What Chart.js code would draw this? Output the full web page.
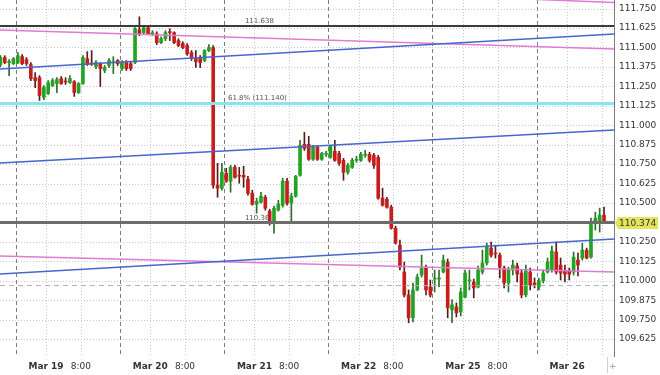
<!DOCTYPE html>
<html>
<head>
<meta charset="utf-8">
<script src="https://cdn.jsdelivr.net/npm/chart.js@4.4.1/dist/chart.umd.min.js"></script>
<style>
  html, body { margin: 0; padding: 0; background: #fff; }
</style>
</head>
<body>
<canvas id="usdjpy" width="660" height="375"></canvas>
<script>
// hourly candles, x = hours from Mar 19 00:00 with the weekend squeezed out
const firstHour = -11

const opens = [
  111.390, 111.435, 111.403, 111.396, 111.403, 111.441, 111.422, 111.390, 111.306, 111.306,
  111.178, 111.204, 111.255, 111.268, 111.300, 111.281, 111.274, 111.281, 111.210, 111.268,
  111.428, 111.396, 111.377, 111.396, 111.352, 111.384, 111.403, 111.416, 111.364, 111.403,
  111.396, 111.403, 111.614, 111.595, 111.627, 111.588, 111.588, 111.531, 111.556, 111.601,
  111.595, 111.544, 111.525, 111.512, 111.467, 111.428, 111.435, 111.416, 111.480, 111.499,
  110.614, 110.595, 110.691, 110.640, 110.729, 110.678, 110.678, 110.653, 110.563, 110.492,
  110.505, 110.537, 110.448, 110.377, 110.454, 110.486, 110.640, 110.499, 110.544, 110.678,
  110.877, 110.877, 110.781, 110.858, 110.781, 110.813, 110.794, 110.832, 110.819, 110.774,
  110.697, 110.729, 110.774, 110.774, 110.806, 110.813, 110.806, 110.794, 110.531, 110.524,
  110.473, 110.338, 110.229, 110.056, 109.909, 109.762, 109.941, 110.037, 110.082, 109.960,
  110.011, 110.011, 110.056, 110.120, 109.813, 109.832, 109.800, 109.896, 109.999, 109.992,
  109.960, 110.056, 110.114, 110.210, 110.178, 110.165, 110.082, 109.986, 110.069, 110.095,
  110.050, 109.909, 110.056, 109.986, 109.960, 109.999, 110.056, 110.069, 110.185, 110.101,
  110.063, 110.069, 110.056, 110.133, 110.146, 110.197, 110.152, 110.377, 110.377, 110.422
]
const highs = [
  111.447, 111.447, 111.422, 111.435, 111.467, 111.454, 111.435, 111.403, 111.338, 111.319,
  111.255, 111.287, 111.300, 111.306, 111.313, 111.306, 111.319, 111.287, 111.274, 111.447,
  111.473, 111.480, 111.416, 111.403, 111.384, 111.428, 111.441, 111.422, 111.416, 111.416,
  111.409, 111.627, 111.697, 111.640, 111.640, 111.608, 111.601, 111.569, 111.608, 111.620,
  111.601, 111.556, 111.537, 111.525, 111.480, 111.480, 111.448, 111.486, 111.518, 111.512,
  110.755, 110.755, 110.723, 110.742, 110.742, 110.729, 110.736, 110.672, 110.582, 110.531,
  110.569, 110.550, 110.460, 110.480, 110.518, 110.659, 110.659, 110.563, 110.678, 110.903,
  110.954, 110.928, 110.870, 110.870, 110.826, 110.832, 110.870, 110.903, 110.832, 110.787,
  110.755, 110.787, 110.800, 110.826, 110.838, 110.826, 110.819, 110.806, 110.595, 110.537,
  110.486, 110.351, 110.262, 110.120, 109.941, 109.986, 110.043, 110.165, 110.101, 110.005,
  110.069, 110.069, 110.165, 110.140, 109.877, 109.858, 109.954, 110.069, 110.069, 110.011,
  110.095, 110.197, 110.242, 110.249, 110.229, 110.178, 110.095, 110.088, 110.133, 110.114,
  110.069, 110.101, 110.082, 110.018, 110.018, 110.069, 110.146, 110.223, 110.249, 110.146,
  110.101, 110.082, 110.185, 110.178, 110.242, 110.210, 110.403, 110.441, 110.467, 110.473
]
const lows = [
  111.377, 111.396, 111.319, 111.390, 111.396, 111.390, 111.384, 111.287, 111.242, 111.159,
  111.165, 111.197, 111.249, 111.210, 111.262, 111.262, 111.268, 111.185, 111.204, 111.262,
  111.384, 111.384, 111.364, 111.249, 111.338, 111.371, 111.332, 111.384, 111.352, 111.352,
  111.352, 111.396, 111.576, 111.588, 111.582, 111.576, 111.518, 111.525, 111.544, 111.544,
  111.525, 111.505, 111.492, 111.448, 111.416, 111.371, 111.371, 111.409, 111.473, 110.595,
  110.537, 110.582, 110.633, 110.569, 110.659, 110.627, 110.601, 110.550, 110.486, 110.435,
  110.499, 110.454, 110.358, 110.306, 110.448, 110.473, 110.486, 110.377, 110.537, 110.672,
  110.838, 110.774, 110.774, 110.774, 110.774, 110.800, 110.787, 110.768, 110.742, 110.646,
  110.685, 110.723, 110.762, 110.768, 110.794, 110.762, 110.723, 110.524, 110.480, 110.467,
  110.332, 110.236, 110.069, 109.896, 109.730, 109.736, 109.935, 110.024, 109.909, 109.896,
  109.928, 109.960, 110.050, 109.762, 109.730, 109.768, 109.774, 109.890, 109.941, 109.890,
  109.954, 110.043, 110.101, 110.152, 110.146, 110.018, 109.954, 109.928, 110.037, 109.992,
  109.890, 109.896, 109.941, 109.954, 109.941, 109.986, 110.050, 110.056, 110.043, 110.005,
  109.992, 110.005, 110.037, 110.031, 110.133, 110.140, 110.146, 110.326, 110.313, 110.371
]
const closes = [
  111.435, 111.403, 111.409, 111.428, 111.447, 111.396, 111.396, 111.300, 111.287, 111.191,
  111.242, 111.274, 111.287, 111.294, 111.268, 111.278, 111.300, 111.210, 111.268, 111.435,
  111.390, 111.393, 111.403, 111.364, 111.371, 111.416, 111.409, 111.396, 111.403, 111.364,
  111.364, 111.621, 111.588, 111.627, 111.588, 111.595, 111.531, 111.556, 111.595, 111.595,
  111.531, 111.512, 111.499, 111.460, 111.428, 111.409, 111.403, 111.480, 111.499, 110.615,
  110.595, 110.697, 110.640, 110.729, 110.665, 110.672, 110.665, 110.563, 110.492, 110.511,
  110.544, 110.467, 110.377, 110.467, 110.492, 110.640, 110.499, 110.544, 110.672, 110.870,
  110.851, 110.781, 110.858, 110.781, 110.819, 110.819, 110.864, 110.774, 110.755, 110.697,
  110.742, 110.774, 110.781, 110.813, 110.813, 110.774, 110.742, 110.531, 110.486, 110.473,
  110.338, 110.242, 110.088, 109.909, 109.762, 109.941, 110.024, 110.082, 109.941, 109.909,
  110.018, 110.018, 110.133, 109.826, 109.845, 109.794, 109.928, 110.050, 110.005, 109.954,
  110.069, 110.114, 110.217, 110.165, 110.172, 110.088, 109.986, 110.069, 110.101, 110.043,
  109.909, 110.063, 109.973, 109.973, 109.999, 110.050, 110.120, 110.191, 110.056, 110.050,
  110.043, 110.043, 110.152, 110.101, 110.197, 110.146, 110.377, 110.403, 110.422, 110.374
]

// axis ticks
const dayTicks = [0, 24, 48, 72, 96, 120]
const dayLabels = ['Mar 19', 'Mar 20', 'Mar 21', 'Mar 22', 'Mar 25', 'Mar 26']
const hourTicks = [8, 32, 56, 80, 104, 128]
const hourLabels = ['8:00', '8:00', '8:00', '8:00', '8:00', '']
const sessionBreaks = [-7, 17, 41, 65, 89, 113]
const priceTicks = [109.625, 109.750, 109.875, 110.000, 110.125, 110.250, 110.375, 110.500, 110.625,
  110.750, 110.875, 111.000, 111.125, 111.250, 111.375, 111.500, 111.625, 111.750]

// drawn levels and trend lines
const levels = [111.638, 111.140, 110.374]
const levelTexts = ['111.638', '61.8% (111.140)', '110.36']
const levelTextAt = [45.8, 41.9, 45.8]
const dashedLevel = 109.969
const lastPrice = 110.374
const trendFrom = -10.6
const trendTo = 130.8
const blueLines = [[111.362, 111.586], [110.757, 110.970], [110.044, 110.269]]
const pinkLines = [[111.612, 111.490], [110.160, 110.057]]
const pinkUpper = [[110, 111.812], [130.8, 111.789]]

const GREEN = '#22a322'
const RED = '#c81d1d'

const lineSet = (pts, color, width, dash) => ({
    type: 'line',
    data: pts,
    borderColor: color,
    borderWidth: width,
    borderDash: dash || [],
    pointRadius: 0,
    fill: false,
    order: 0
})

const prepareData = () => {
    const bodies = []
    const wicks = []
    const colors = []
    opens.forEach((o, i) => {
        const x = firstHour + i + 0.5
        bodies.push({x: x, y: [o, closes[i]]})
        wicks.push({x: x, y: [lows[i], highs[i]]})
        colors.push(closes[i] >= o ? GREEN : RED)
    })

    const datasets = []
    blueLines.forEach(l => datasets.push(lineSet([{x: trendFrom, y: l[0]}, {x: trendTo, y: l[1]}], '#4566cc', 1.5)))
    pinkLines.forEach(l => datasets.push(lineSet([{x: trendFrom, y: l[0]}, {x: trendTo, y: l[1]}], '#e07bd2', 1.5)))
    datasets.push(lineSet(pinkUpper.map(p => ({x: p[0], y: p[1]})), '#e07bd2', 1.5))
    datasets.push(lineSet([{x: trendFrom, y: levels[0]}, {x: trendTo, y: levels[0]}], '#3a3a3a', 2))
    datasets.push(lineSet([{x: trendFrom, y: levels[1]}, {x: trendTo, y: levels[1]}], '#86e6ec', 3))
    datasets.push(lineSet([{x: trendFrom, y: levels[2]}, {x: trendTo, y: levels[2]}], '#6c6c6c', 3))
    datasets.push(lineSet([{x: trendFrom, y: dashedLevel}, {x: trendTo, y: dashedLevel}], '#b0b0b0', 1, [5, 4]))

    datasets.push({type: 'bar', data: bodies, backgroundColor: colors, barThickness: 3,
        minBarLength: 1, grouped: false, order: 1})
    datasets.push({type: 'bar', data: wicks, backgroundColor: colors.map(c => c === GREEN ? '#2c6e2c' : '#5a1a1a'),
        barThickness: 1, grouped: false, order: 2})
    return {datasets: datasets}
}

// grid, session lines, texts and the price marker
const decor = {
    id: 'decor',
    beforeDatasetsDraw(chart) {
        const {ctx, chartArea: a, scales: {x, y}} = chart
        const vline = (px, color, dash) => {
            ctx.strokeStyle = color
            ctx.setLineDash(dash)
            ctx.beginPath()
            ctx.moveTo(px, a.top)
            ctx.lineTo(px, a.bottom)
            ctx.stroke()
        }
        ctx.save()
        ctx.lineWidth = 1
        ctx.strokeStyle = '#c6c6c6'
        ctx.setLineDash([1, 2])
        priceTicks.forEach(v => {
            const py = Math.round(y.getPixelForValue(v)) + 0.5
            ctx.beginPath()
            ctx.moveTo(a.left, py)
            ctx.lineTo(a.right, py)
            ctx.stroke()
        })
        dayTicks.concat(hourTicks).forEach(v => vline(Math.round(x.getPixelForValue(v)) + 0.5, '#c6c6c6', [1, 2]))
        sessionBreaks.forEach(v => vline(Math.round(x.getPixelForValue(v)) + 0.5, '#7c7c7c', [4, 3]))

        ctx.setLineDash([])
        ctx.fillStyle = '#555'
        ctx.font = '7px "DejaVu Sans"'
        ctx.textBaseline = 'alphabetic'
        levels.forEach((v, i) => {
            ctx.fillText(levelTexts[i], x.getPixelForValue(levelTextAt[i]), y.getPixelForValue(v) - 3)
        })
        ctx.restore()
    },
    afterDraw(chart) {
        const {ctx, chartArea: a, scales: {y}} = chart
        ctx.save()
        ctx.strokeStyle = '#7a7a7a'
        ctx.lineWidth = 1
        ctx.beginPath()
        ctx.moveTo(a.right + 0.5, a.top)
        ctx.lineTo(a.right + 0.5, a.bottom)
        ctx.stroke()

        ctx.strokeStyle = '#d0d0d0'
        ctx.beginPath()
        ctx.moveTo(607.5, a.bottom)
        ctx.lineTo(607.5, 373)
        ctx.stroke()
        ctx.fillStyle = '#999'
        ctx.font = '9px "DejaVu Sans"'
        ctx.textBaseline = 'middle'
        ctx.fillText('+', 609, 367)

        const py = Math.round(y.getPixelForValue(lastPrice))
        ctx.fillStyle = '#e2e45c'
        ctx.beginPath()
        ctx.moveTo(a.right + 1, py)
        ctx.lineTo(a.right + 4, py - 6)
        ctx.lineTo(658, py - 6)
        ctx.lineTo(658, py + 6)
        ctx.lineTo(a.right + 4, py + 6)
        ctx.closePath()
        ctx.fill()
        ctx.fillStyle = '#333'
        ctx.fillText(lastPrice.toFixed(3), a.right + 5, py + 0.5)
        ctx.restore()
    }
}

const noPad = s => {
    s.paddingTop = 0
    s.paddingBottom = 0
    s.paddingLeft = 0
    s.paddingRight = 0
}

const createChart = data => {
    const ctx = document.querySelector('#usdjpy')
    Chart.defaults.font.family = '"DejaVu Sans", Verdana, sans-serif'
    new Chart(ctx, {
        type: 'bar',
        data: data,
        plugins: [decor],
        options: {
            responsive: false,
            animation: false,
            devicePixelRatio: 1,
            layout: {padding: 0},
            plugins: {legend: {display: false}, tooltip: {enabled: false}},
            scales: {
                x: {
                    type: 'linear',
                    min: trendFrom,
                    max: trendTo,
                    offset: false,
                    grid: {display: false, drawTicks: false, offset: false},
                    border: {display: false},
                    afterBuildTicks: s => { s.ticks = dayTicks.concat(hourTicks).sort((a, b) => a - b).map(v => ({value: v})) },
                    afterFit: s => { s.height = 18; noPad(s) },
                    ticks: {
                        autoSkip: false,
                        maxRotation: 0,
                        padding: 4,
                        color: '#333',
                        font: c => ({size: 9, weight: c.tick && dayTicks.includes(c.tick.value) ? 'bold' : 'normal'}),
                        callback: v => dayTicks.includes(v) ? dayLabels[dayTicks.indexOf(v)] : hourLabels[hourTicks.indexOf(v)]
                    }
                },
                y: {
                    position: 'right',
                    min: 109.510,
                    max: 111.805,
                    grid: {display: false, drawTicks: false},
                    border: {display: false},
                    afterBuildTicks: s => { s.ticks = priceTicks.map(v => ({value: v})) },
                    afterFit: s => { s.width = 46; noPad(s) },
                    ticks: {
                        padding: 5,
                        color: '#333',
                        font: {size: 9},
                        callback: v => v.toFixed(3)
                    }
                }
            }
        }
    })
}

createChart(prepareData())
</script>
</body>
</html>
